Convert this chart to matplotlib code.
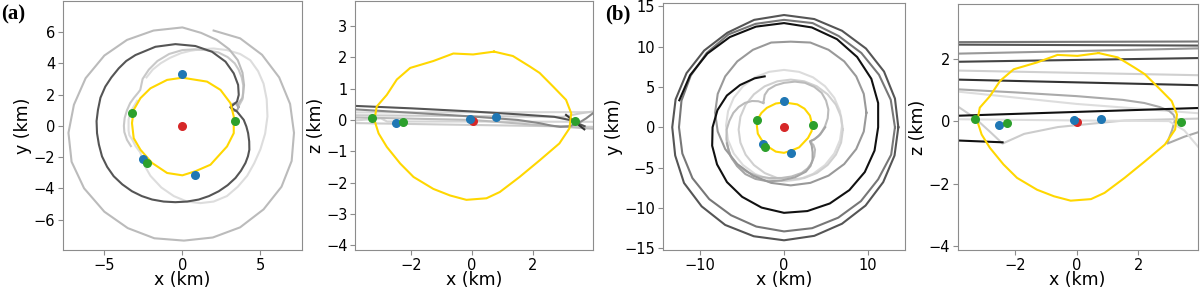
#%% Biblioteker
import matplotlib
matplotlib.use("Agg")
import matplotlib.pyplot as plt

#%% Data - punkter (felles for alle panel)

red_xy = ([0.0], [0.0])
blue_xy = ([0.0, 0.8, -2.5], [3.3, -3.15, -2.1])
green_xy = ([-3.2, 3.4, -2.3], [0.85, 0.3, -2.4])

red_xz = ([0.03], [-0.02])
blue_xz = ([-0.07, 0.8, -2.5], [0.04, 0.08, -0.11])
green_xz = ([-3.3, -2.27, 3.4], [0.06, -0.07, -0.03])

# gul kontur i xy
yellow_xy_x = [0.0, 1.58, 2.44, 3.08, 3.29, 3.29, 2.86, 1.8, 0.83, 0.0, -0.98, -1.94, -2.69,
               -3.12, -3.23, -3.12, -2.69, -2.05, -0.98, 0.0]
yellow_xy_y = [3.08, 2.83, 2.3, 1.45, 0.6, -0.47, -1.32, -2.49, -2.91, -3.17, -3.02, -2.38, -1.53,
               -0.79, 0.17, 1.02, 1.77, 2.4, 2.94, 3.08]

# gul kontur i xz
yellow_xz_x = [0.72, 0.03, -0.62, -1.28, -2.04, -2.48, -2.81, -3.14, -3.22, -3.08, -2.81, -2.37,
               -1.93, -1.28, -0.73, -0.19, 0.47, 0.91, 1.56, 2.22, 2.87, 3.2, 3.26, 3.09, 2.66,
               2.22, 1.89, 1.34, 0.72]
yellow_xz_z = [2.18, 2.09, 2.12, 1.88, 1.66, 1.29, 0.8, 0.43, 0.0, -0.43, -0.86, -1.39,
               -1.82, -2.2, -2.41, -2.55, -2.5, -2.3, -1.82, -1.29, -0.75, -0.27, 0.21, 0.64, 1.07,
               1.5, 1.71, 2.04, 2.18]

#%% Data - baner panel (a), xy

a_dark_x = [3.08, 3.5, 3.61, 3.57, 3.29, 2.76, 1.9, 0.83, -0.45, -1.73, -3.01, -3.6, -4.08, -4.55,
            -4.94, -5.25, -5.41, -5.5, -5.47, -5.35, -5.15, -4.82, -4.4, -3.85, -3.23, -2.6,
            -1.94, -1.2, -0.45, 0.3, 1.05, 1.7, 2.33, 2.9, 3.4, 3.75, 4.04, 4.2, 4.29, 4.28, 4.21,
            4.1, 3.93, 3.5, 3.18]
a_dark_y = [1.19, 1.55, 1.98, 2.62, 3.36, 4.11, 4.74, 5.11, 5.23, 5.06, 4.53, 4.15, 3.68, 3.1,
            2.51, 1.8, 1.02, 0.3, -0.47, -1.2, -1.96, -2.63, -3.23, -3.75, -4.19, -4.5,
            -4.72, -4.85, -4.89, -4.85, -4.72, -4.5, -4.19, -3.8, -3.34, -2.88, -2.38, -1.95, -1.53,
            -1.0, -0.47, -0.05, 0.38, 0.91, 1.13]

a_loop_x = [3.6, 3.52, 3.35, 3.18, 3.1, 3.18, 3.35, 3.52, 3.6]
a_loop_y = [1.2, 1.38, 1.45, 1.38, 1.2, 1.02, 0.95, 1.02, 1.2]

a_outer_x = [3.5, 3.85, 3.95, 3.85, 3.55, 3.0, 2.2, 1.2, 0.0, -1.85, -3.55, -5.0, -6.2, -6.95,
             -7.3, -7.1, -6.3, -5.0, -3.5, -1.8, 0.1, 1.95, 3.7, 5.2, 6.35, 7.0, 7.15, 6.9, 6.2,
             5.1, 3.7, 2.0]
a_outer_y = [1.3, 1.8, 2.6, 3.4, 4.2, 4.9, 5.5, 5.95, 6.3, 6.1, 5.5, 4.5, 3.05, 1.35,
             -0.45, -2.3, -4.0, -5.5, -6.55, -7.2, -7.35, -7.15, -6.5, -5.35, -3.9, -2.25, -0.45,
             1.4, 3.1, 4.55, 5.6, 6.1]

a_cusp_x = [-3.3, -3.55, -3.72, -3.75, -3.7, -3.55, -3.35, -3.1, -2.85, -2.7, -2.55, -2.15,
            -1.6, -0.85, 0.0, 0.8, 1.5, 2.3, 2.9, 3.35, 3.6, 3.8, 3.9, 3.9, 3.85, 3.6]
a_cusp_y = [-1.3, -0.9, -0.4, 0.0, 0.5, 1.0, 1.45, 1.8, 2.1, 2.3, 3.0, 3.6,
            4.15, 4.6, 4.85, 4.9, 4.85, 4.7, 4.4, 4.0, 3.6, 3.1, 2.6, 2.1, 1.7, 1.25]

a_light_x = [-2.3, -1.9, -1.4, -0.8, -0.1, 0.5, 1.15, 2.0, 2.85, 3.7, 4.35, 4.85, 5.2, 5.4, 5.45,
             5.3, 5.0, 4.6, 4.15, 3.55, 2.85, 2.0, 1.15, 0.3, -0.55, -1.35, -2.05, -2.45,
             -2.7, -3.0, -3.2, -3.4, -3.45, -3.45, -3.35, -3.2, -2.9]
a_light_y = [3.1, 3.6, 4.0, 4.35, 4.65, 4.8, 4.9, 4.95, 4.85, 4.6, 4.2, 3.5, 2.7, 1.7, 0.6,
             -0.5, -1.5, -2.4, -3.2, -3.9, -4.5, -4.85, -4.95, -4.85, -4.5, -3.95, -3.2, -2.5,
             -1.7, -1.3, -0.9, -0.6, -0.3, 0.4, 0.8, 1.1, 1.6]

#%% Data - baner panel (a), xz

a_xz_dark_x = [-3.9, -2.0, 0.0, 1.5, 2.7, 3.2, 3.7]
a_xz_dark_z = [0.45, 0.37, 0.27, 0.18, 0.1, 0.0, -0.2]
a_xz_cross_x = [3.09, 3.69]
a_xz_cross_z = [0.16, -0.3]
a_xz_mid_x = [-3.9, -2.0, 0.0, 1.5, 2.2, 2.6, 2.9, 3.2, 3.5, 3.75, 3.97]
a_xz_mid_z = [0.34, 0.23, 0.11, 0.0, -0.1, -0.18, -0.22, -0.2, -0.1, 0.05, 0.21]
a_xz_l1_x = [-3.9, 3.97]
a_xz_l1_z = [0.24, 0.25]
a_xz_l2_x = [-3.9, 3.0, 3.5, 3.97]
a_xz_l2_z = [0.15, 0.1, 0.2, 0.27]
a_xz_l3_x = [-3.9, -3.0, -2.8, 0.0, 3.97]
a_xz_l3_z = [-0.02, 0.05, -0.05, -0.05, -0.06]
a_xz_l4_x = [-3.9, 0.0, 3.97]
a_xz_l4_z = [-0.1, -0.16, -0.22]
a_xz_l5_x = [-3.9, -2.9, 0.0, 2.0, 3.97]
a_xz_l5_z = [0.08, 0.06, 0.0, -0.15, -0.28]

#%% Data - baner panel (b), xy

b_black_x = [-2.3, -3.5, -5.23, -6.8, -7.92, -8.5, -8.55, -7.97, -6.79, -4.98, -2.67, 0.0, 2.78,
             5.45, 7.78, 9.61, 10.77, 11.2, 11.2, 10.39, 8.7, 6.3, 3.31, 0.0, -3.34, -6.45,
             -9.12, -11.17, -12.46]
b_black_y = [6.3, 6.06, 5.23, 3.93, 2.12, 0.0, -2.29, -4.6, -6.79, -8.62, -9.95, -10.6, -10.38,
             -9.44, -7.78, -5.55, -2.89, 0.0, 3.0, 6.0, 8.7, 10.91, 12.36, 12.9, 12.46, 11.17,
             9.12, 6.45, 3.34]

b_outer1_x = [13.6, 13.2, 11.9, 9.75, 6.9, 3.6, 0.0, -3.55, -6.75, -9.5, -11.6, -12.9, -13.3,
              -12.95, -11.9, -9.8, -7.0, -3.6, 0.0, 3.6, 6.9, 9.7, 11.8, 13.15, 13.6]
b_outer1_y = [0.0, 3.55, 6.9, 9.75, 11.95, 13.4, 13.9, 13.3, 11.7, 9.5, 6.7, 3.45, 0.0,
              -3.5, -6.9, -9.8, -12.1, -13.5, -14.0, -13.45, -11.95, -9.7, -6.8, -3.5, 0.0]

b_outer2_x = [13.2, 12.75, 11.2, 9.15, 6.45, 3.35, 0.0, -3.3, -6.3, -8.9, -10.9, -12.1, -12.5,
              -12.2, -11.1, -9.2, -6.6, -3.4, 0.0, 3.4, 6.5, 9.2, 11.3, 12.7, 13.2]
b_outer2_y = [0.0, -3.4, -6.45, -9.15, -11.2, -12.5, -12.9, -12.3, -10.9, -8.9, -6.3, -3.25, 0.0,
              3.3, 6.4, 9.2, 11.5, 12.8, 13.3, 12.9, 11.3, 9.2, 6.5, 3.4, 0.0]

b_mid_x = [9.8, 9.49, 8.59, 7.16, 5.3, 3.13, 0.8, -1.53, -3.7, -5.56, -7.0, -7.89, -8.2, -7.89,
           -7.0, -5.56, -3.7, -1.53, 0.8, 3.13, 5.3, 7.16, 8.59, 9.49, 9.8]
b_mid_y = [1.8, 4.13, 6.3, 8.16, 9.59, 10.49, 10.6, 10.49, 9.59, 8.16, 6.3, 4.13, 1.8, -0.53,
           -2.7, -4.56, -5.99, -6.89, -7.2, -6.89, -5.99, -4.56, -2.7, -0.53, 1.8]

b_l1_x = [6.9, 6.66, 5.98, 4.88, 3.45, 1.79, 0.0, -1.79, -3.45, -4.88, -5.98, -6.66, -6.9, -6.66,
          -5.98, -4.88, -3.45, -1.79, 0.0, 1.79, 3.45, 4.88, 5.98, 6.66, 6.9]
b_l1_y = [0.2, 1.99, 3.65, 5.08, 6.18, 6.86, 7.1, 6.86, 6.18, 5.08, 3.65, 1.99, 0.2, -1.59,
          -3.25, -4.68, -5.78, -6.46, -6.7, -6.46, -5.78, -4.68, -3.25, -1.59, 0.2]

b_l2_x = [-2.46, -2.3, -1.87, -1.0, 0.0, 1.3, 2.5, 3.6, 4.48, 5.0, 5.28, 5.2, 4.88, 4.5, 4.09,
          3.6, 3.1, 3.5, 3.69, 3.6, 3.29, 2.8, 2.1, 0.9, -0.28, -1.7, -3.06, -4.4, -5.44, -6.2,
          -6.63, -6.85, -6.83, -6.5, -6.03, -5.4, -4.64, -3.8, -3.06, -2.46]
b_l2_y = [3.0, 4.0, 4.67, 5.2, 5.5, 5.65, 5.5, 5.0, 4.26, 3.3, 2.19, 1.1, 0.12, -0.55, -1.12,
          -1.5, -1.74, -2.2, -2.77, -3.6, -4.42, -5.1, -5.66, -6.1, -6.28, -6.3, -6.07, -5.55,
          -4.83, -3.9, -2.77, -1.5, -0.29, 0.8, 1.78, 2.5, 3.02, 3.25, 3.22, 3.0]

b_l3_x = [7.0, 6.79, 6.17, 5.18, 3.9, 2.4, 0.8, -0.8, -2.3, -3.58, -4.57, -5.19, -5.4, -5.19,
          -4.57, -3.58, -2.3, -0.8, 0.8, 2.4, 3.9, 5.18, 6.17, 6.79, 7.0]
b_l3_y = [-0.3, 1.3, 2.8, 4.08, 5.07, 5.69, 5.9, 5.69, 5.07, 4.08, 2.8, 1.3, -0.3, -1.9,
          -3.4, -4.68, -5.67, -6.29, -6.5, -6.29, -5.67, -4.68, -3.4, -1.9, -0.3]

b_l4_x = [-6.8, -6.4, -5.6, -4.6, -3.4, -1.9, -0.3, 1.3, 2.6, 3.15, 3.4, 3.4, 3.3, 3.1, 3.6,
          4.3, 4.9]
b_l4_y = [-2.0, -3.5, -4.8, -5.8, -6.4, -6.7, -6.6, -6.2, -5.5, -4.8, -4.0, -3.1, -2.3, -1.75,
          -1.5, -0.9, 0.0]

#%% Data - baner panel (b), xz

b_xz_lines = [
    ([-3.9, 3.97], [2.53, 2.55], "#777777"),
    ([-3.9, 3.97], [2.45, 2.42], "#555555"),
    ([-3.9, 3.97], [2.16, 2.33], "#999999"),
    ([-3.9, 3.97], [1.9, 2.02], "#444444"),
    ([-3.9, 3.97], [1.62, 1.47], "#d0d0d0"),
    ([-3.9, 3.97], [1.33, 1.15], "#333333"),
    ([-3.9, 0.0, 3.97], [0.95, 0.55, 0.25], "#dddddd"),
    ([-3.9, -2.0, 0.0, 1.5, 2.2, 2.7, 3.0, 3.15, 3.2, 3.1, 3.0, 2.95, 3.5, 3.97],
     [1.02, 0.92, 0.8, 0.68, 0.58, 0.45, 0.33, 0.2, 0.05, -0.3, -0.55, -0.72, -0.5, -0.35],
     "#aaaaaa"),
    ([-3.9, -3.3, -2.8, -2.4, -1.7, -0.6, 1.56, 3.97],
     [0.5, 0.1, -0.35, -0.72, -0.41, -0.19, 0.02, 0.08], "#cccccc"),
    ([-3.9, 0.0, 3.0, 3.5, 3.97], [0.06, 0.02, 0.0, -0.3, -0.85], "#dddddd"),
    ([-3.9, 3.97], [0.17, 0.42], "#111111"),
    ([-3.9, -2.4], [-0.62, -0.68], "#111111"),
]

#%% Figur

plt.rcParams['font.family'] = 'DejaVu Sans'
fig = plt.figure(figsize=(12, 2.9), dpi=100)

ax1 = fig.add_axes([0.0525, 0.138, 0.199, 0.859])
ax2 = fig.add_axes([0.296, 0.138, 0.198, 0.859])
ax3 = fig.add_axes([0.5525, 0.138, 0.2017, 0.852])
ax4 = fig.add_axes([0.798, 0.138, 0.2, 0.848])

lw = 1.5


def punkter(ax, red, blue, green):
    ax.scatter(red[0], red[1], s=30, color='tab:red', zorder=10)
    ax.scatter(blue[0], blue[1], s=30, color='tab:blue', zorder=11)
    ax.scatter(green[0], green[1], s=30, color='tab:green', zorder=12)


def stil(ax, xlabel, ylabel):
    for s in ax.spines.values():
        s.set_color('#8c8c8c')
    ax.tick_params(colors='#8c8c8c', labelcolor='black', labelsize=10.5, length=3.5, pad=2)
    ax.set_xlabel(xlabel, fontsize=12.5, labelpad=-1)
    ax.set_ylabel(ylabel, fontsize=12.5, labelpad=1)


# panel (a) xy
ax1.plot(a_light_x, a_light_y, color='#dddddd', lw=lw)
ax1.plot(a_cusp_x, a_cusp_y, color='#c8c8c8', lw=lw)
ax1.plot(a_outer_x, a_outer_y, color='#bbbbbb', lw=lw)
ax1.plot(a_loop_x, a_loop_y, color='#aaaaaa', lw=lw)
ax1.plot(a_dark_x, a_dark_y, color='#555555', lw=lw)
ax1.plot(yellow_xy_x, yellow_xy_y, color='gold', lw=lw)
punkter(ax1, red_xy, blue_xy, green_xy)
ax1.set_xlim(-7.65, 7.65)
ax1.set_ylim(-7.95, 8.0)
ax1.set_xticks([-5, 0, 5])
ax1.set_yticks([-6, -4, -2, 0, 2, 4, 6])
stil(ax1, 'x (km)', 'y (km)')

# panel (a) xz
for xs, zs, c in [(a_xz_l1_x, a_xz_l1_z, '#d8d8d8'), (a_xz_l2_x, a_xz_l2_z, '#cccccc'),
                  (a_xz_l3_x, a_xz_l3_z, '#d5d5d5'), (a_xz_l4_x, a_xz_l4_z, '#cccccc'),
                  (a_xz_l5_x, a_xz_l5_z, '#bbbbbb')]:
    ax2.plot(xs, zs, color=c, lw=lw)
ax2.plot(a_xz_mid_x, a_xz_mid_z, color='#888888', lw=lw)
ax2.plot(a_xz_dark_x, a_xz_dark_z, color='#555555', lw=lw)
ax2.plot(a_xz_cross_x, a_xz_cross_z, color='#333333', lw=lw)
ax2.plot(yellow_xz_x, yellow_xz_z, color='gold', lw=lw)
punkter(ax2, red_xz, blue_xz, green_xz)
ax2.set_xlim(-3.85, 3.97)
ax2.set_ylim(-4.15, 3.8)
ax2.set_xticks([-2, 0, 2])
ax2.set_yticks([-4, -3, -2, -1, 0, 1, 2, 3])
stil(ax2, 'x (km)', 'z (km)')

# panel (b) xy
ax3.plot(b_l1_x, b_l1_y, color='#dcdcdc', lw=lw)
ax3.plot(b_l3_x, b_l3_y, color='#d0d0d0', lw=lw)
ax3.plot(b_l2_x, b_l2_y, color='#bbbbbb', lw=lw)
ax3.plot(b_l4_x, b_l4_y, color='#a5a5a5', lw=lw)
ax3.plot(b_mid_x, b_mid_y, color='#999999', lw=lw)
ax3.plot(b_outer2_x, b_outer2_y, color='#777777', lw=lw)
ax3.plot(b_outer1_x, b_outer1_y, color='#555555', lw=lw)
ax3.plot(b_black_x, b_black_y, color='#111111', lw=lw)
ax3.plot(yellow_xy_x, yellow_xy_y, color='gold', lw=lw)
punkter(ax3, red_xy, blue_xy, green_xy)
ax3.set_xlim(-14.4, 14.4)
ax3.set_ylim(-15.2, 15.4)
ax3.set_xticks([-10, 0, 10])
ax3.set_yticks([-15, -10, -5, 0, 5, 10, 15])
stil(ax3, 'x (km)', 'y (km)')

# panel (b) xz
for xs, zs, c in b_xz_lines:
    ax4.plot(xs, zs, color=c, lw=lw)
ax4.plot(yellow_xz_x, yellow_xz_z, color='gold', lw=lw)
punkter(ax4, red_xz, blue_xz, green_xz)
ax4.set_xlim(-3.86, 3.93)
ax4.set_ylim(-4.13, 3.75)
ax4.set_xticks([-2, 0, 2])
ax4.set_yticks([-4, -2, 0, 2])
stil(ax4, 'x (km)', 'z (km)')

fig.text(0.001, 0.985, '(a)', fontsize=15, fontweight='bold', family='Liberation Serif', va='top')
fig.text(0.504, 0.985, '(b)', fontsize=15, fontweight='bold', family='Liberation Serif', va='top')

fig.savefig('out.png', dpi=100)
